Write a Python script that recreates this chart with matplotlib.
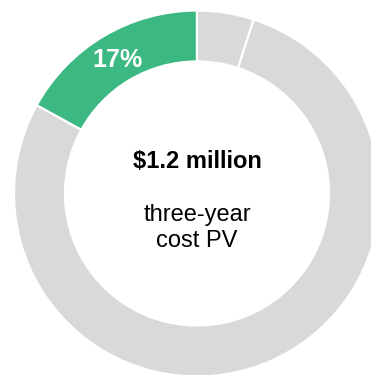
import numpy as np
import matplotlib
matplotlib.use("Agg")
import matplotlib.pyplot as plt

# share of three-year cost: highlighted part vs. the rest (split in two grey pieces)
labels = ["highlight", "other_a", "other_b"]
shares = [17, 5, 78]
colors = ["#3cb982", "#d9d9d9", "#d9d9d9"]

total_label = "$1.2 million"
sub_label = "three-year\ncost PV"

W, H = 371, 375
fig = plt.figure(figsize=(W / 100, H / 100), dpi=100)
ax = fig.add_axes([0, 0, 1, 1])

cx, cy = 197, H - 193.5
R = 183
ring = 51

# green piece runs counter-clockwise from 12 o'clock, greys clockwise
wedges, _ = ax.pie(
    [shares[0], shares[2], shares[1]],
    colors=[colors[0], colors[2], colors[1]],
    startangle=90,
    counterclock=True,
    center=(cx, cy),
    radius=R,
    wedgeprops=dict(width=ring, edgecolor="white", linewidth=1.6),
    frame=True,
)
ax.set_xlim(0, W)
ax.set_ylim(0, H)
ax.set_aspect("equal")
ax.axis("off")

# percentage label inside the green piece
ax.text(117, H - 60, f"{shares[0]}%", color="white", fontsize=18,
        fontweight="bold", family="Liberation Sans", ha="center", va="center")

ax.text(cx, H - 162, total_label, color="black", fontsize=17,
        fontweight="bold", family="Liberation Sans", ha="center", va="center")
ax.text(cx, H - 228, sub_label, color="black", fontsize=17,
        family="Liberation Sans", ha="center", va="center", linespacing=1.22)

fig.savefig("out.png", dpi=100)
